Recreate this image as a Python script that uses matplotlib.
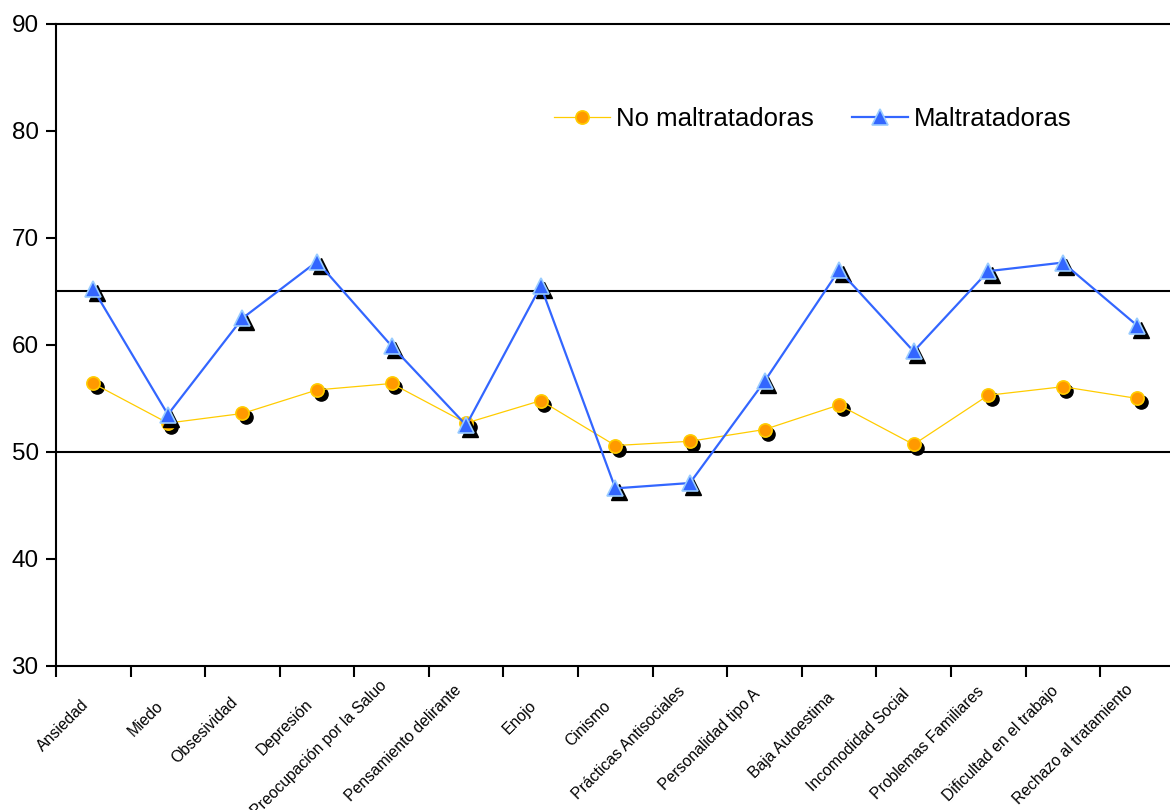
import numpy as np
import matplotlib
matplotlib.use("Agg")
import matplotlib.pyplot as plt
from matplotlib.transforms import offset_copy, ScaledTranslation

plt.rcParams['font.family'] = ['Liberation Sans', 'DejaVu Sans']

categories = ["Ansiedad", "Miedo", "Obsesividad", "Depresión",
              "Preocupación por la Saluo", "Pensamiento delirante", "Enojo",
              "Cinismo", "Prácticas Antisociales", "Personalidad tipo A",
              "Baja Autoestima", "Incomodidad Social", "Problemas Familiares",
              "Dificultad en el trabajo", "Rechazo al tratamiento"]
no_maltratadoras = [56.4, 52.7, 53.6, 55.8, 56.4, 52.7, 54.8, 50.6, 51.0,
                    52.1, 54.4, 50.7, 55.3, 56.1, 55.0]
maltratadoras = [65.2, 53.5, 62.5, 67.8, 59.9, 52.5, 65.5, 46.6, 47.1,
                 56.6, 67.0, 59.4, 66.9, 67.7, 61.8]
ref_lines = [65, 50]
yticks = [30, 40, 50, 60, 70, 80, 90]

fig = plt.figure(figsize=(11.7, 8.1), dpi=100)
ax = fig.add_axes([0.0479, 0.1778, 0.9561, 0.7926])

x = np.arange(len(categories))

for y in ref_lines:
    ax.axhline(y, color='black', linewidth=1.5, zorder=1)

# black drop shadow under every marker, shifted right/down
shadow = offset_copy(ax.transData, fig=fig, x=3.5, y=-4, units='dots')

ax.plot(x, no_maltratadoras, linestyle='none', marker='o', markersize=9.5,
        color='black', transform=shadow, zorder=2)
ax.plot(x, no_maltratadoras, color='#FFCC00', linewidth=0.9, marker='o',
        markersize=9.5, markerfacecolor='#FF9900', markeredgecolor='#FFCC00',
        markeredgewidth=1.2, label='No maltratadoras', zorder=3)

ax.plot(x, maltratadoras, linestyle='none', marker='^', markersize=11,
        color='black', transform=shadow, zorder=4)
ax.plot(x, maltratadoras, color='#3366FF', linewidth=1.6, marker='^',
        markersize=11, markerfacecolor='#3366FF', markeredgecolor='#99CCFF',
        markeredgewidth=1.2, label='Maltratadoras', zorder=5)

ax.set_xlim(-0.5, len(categories) - 0.5)
ax.set_ylim(30, 90)
ax.set_yticks(yticks)
ax.tick_params(axis='y', labelsize=17.5, length=7, width=1.5,
               direction='out', pad=5.5)

# ticks at category boundaries, labels at category centres
ax.set_xticks(np.arange(-0.5, len(categories)), minor=False)
ax.set_xticklabels([])
ax.tick_params(axis='x', which='major', length=8, width=1.5, direction='out')
ax.set_xticks(x, minor=True)
ax.set_xticklabels(categories, minor=True, rotation=45, ha='right',
                   va='center', rotation_mode='anchor', fontsize=11.3)
ax.tick_params(axis='x', which='minor', length=0, pad=27)

for side in ('left', 'bottom', 'top'):
    ax.spines[side].set_linewidth(1.5)
ax.spines['right'].set_visible(False)

ax.legend(loc='center', bbox_to_anchor=(0.6945, 0.853),
          bbox_transform=fig.transFigure, ncol=2, frameon=False,
          fontsize=18.5, handlelength=2.2, handletextpad=0.2,
          columnspacing=1.5)

# longer category labels sit a little higher under the axis
fig.canvas.draw()
renderer = fig.canvas.get_renderer()
for lbl in ax.get_xticklabels(minor=True):
    w = lbl.get_window_extent(renderer).width
    lift = 0.23 * max(w - 54, 0)
    lbl.set_transform(lbl.get_transform() +
                      ScaledTranslation(-7 / 100, lift / 100,
                                        fig.dpi_scale_trans))

fig.savefig("out.png", dpi=100)
